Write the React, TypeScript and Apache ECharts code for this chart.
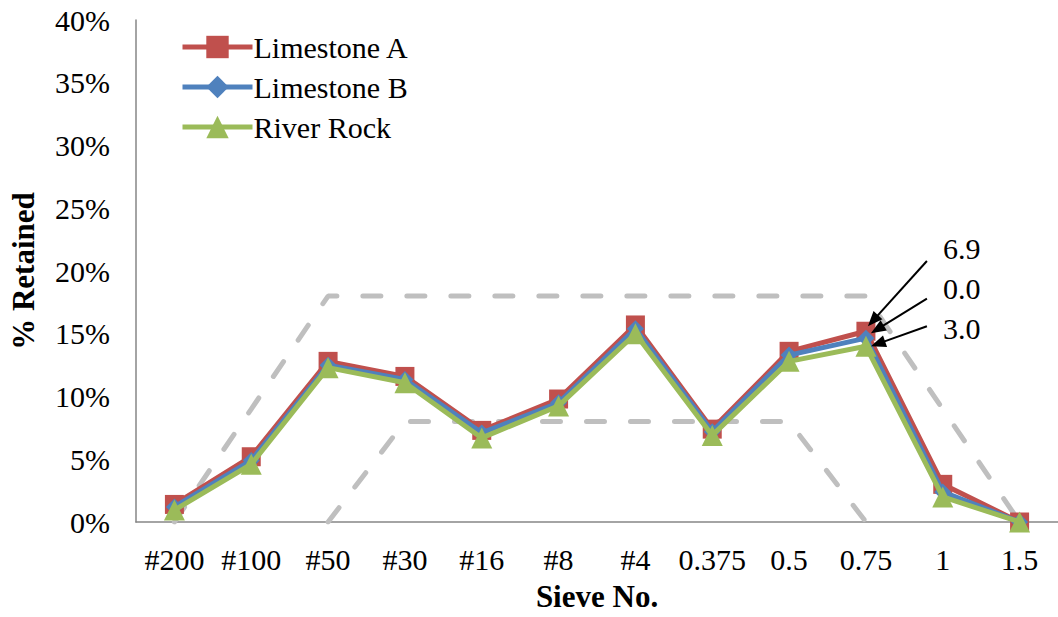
import React, { useEffect, useRef } from "react";
import * as echarts from "echarts";

// Sieve sizes along the x axis
const categories = ["#200", "#100", "#50", "#30", "#16", "#8", "#4", "0.375", "0.5", "0.75", "1", "1.5"];

// Percent retained on each sieve
const limestoneA = [1.4, 5.2, 12.8, 11.6, 7.3, 9.8, 15.7, 7.4, 13.6, 15.2, 3.0, 0];
const limestoneB = [1.2, 4.9, 12.5, 11.35, 7.1, 9.5, 15.4, 7.2, 13.3, 14.65, 2.4, 0];
const riverRock = [0.95, 4.6, 12.3, 11.1, 6.7, 9.25, 15.0, 6.9, 12.8, 14.0, 2.0, 0];

// Gradation band limits
const upperLimit = [0, 9, 18, 18, 18, 18, 18, 18, 18, 18, 9, 0];
const lowerLimit = [null, null, 0, 8, 8, 8, 8, 8, 8, 0, null, null];

// Y axis ticks (percent)
const yMax = 40;
const yStep = 5;

// Callouts at the 0.75 sieve: text, label height (%), arrow tail height (%)
const calloutCategory = "0.75";
const calloutTexts = ["6.9", "0.0", "3.0"];
const calloutLabelY = [21.8, 18.6, 15.4];
const calloutTailY = [20.8, 17.8, 15.6];

const FONT = "'Liberation Serif', 'Times New Roman', serif";

export default function App() {
  const ref = useRef<HTMLDivElement>(null);

  useEffect(() => {
    if (!ref.current) return;
    const chart = echarts.init(ref.current, null, { renderer: "svg" });

    const dataSeries = [
      { name: "Limestone A", data: limestoneA, color: "#C0504D", symbol: "rect", size: 19 },
      { name: "Limestone B", data: limestoneB, color: "#4F81BD", symbol: "diamond", size: 17 },
      { name: "River Rock", data: riverRock, color: "#9BBB59", symbol: "triangle", size: 21 },
    ];

    const limitStyle = {
      color: "#BFBFBF",
      width: 5,
      type: [18, 26] as any,
      cap: "round" as const,
    };

    chart.setOption({
      animation: false,
      backgroundColor: "#ffffff",
      grid: { left: 133, top: 20, width: 934, bottom: 92, containLabel: false },
      legend: {
        data: dataSeries.map((s) => s.name),
        orient: "vertical",
        left: 175,
        top: 27,
        itemWidth: 70,
        itemHeight: 28,
        itemGap: 10,
        lineStyle: { width: 5 },
        textStyle: { fontFamily: FONT, fontSize: 30, color: "#000", padding: [0, 0, 0, -4] },
      },
      xAxis: {
        type: "category",
        data: categories,
        boundaryGap: true,
        name: "Sieve No.",
        nameLocation: "middle",
        nameGap: 59,
        nameTextStyle: { fontFamily: FONT, fontSize: 31, fontWeight: "bold", color: "#000" },
        axisLine: { lineStyle: { color: "#868686", width: 1.5 } },
        axisTick: { show: false },
        axisLabel: { fontFamily: FONT, fontSize: 30, color: "#000", margin: 22, interval: 0 },
        splitLine: { show: false },
      },
      yAxis: {
        type: "value",
        min: 0,
        max: yMax,
        interval: yStep,
        name: "% Retained",
        nameLocation: "middle",
        nameGap: 97,
        nameTextStyle: { fontFamily: FONT, fontSize: 31, fontWeight: "bold", color: "#000" },
        axisLine: { show: true, lineStyle: { color: "#868686", width: 1.5 } },
        axisTick: { show: false },
        axisLabel: { fontFamily: FONT, fontSize: 30, color: "#000", margin: 26, formatter: "{value}%" },
        splitLine: { show: false },
      },
      series: [
        {
          name: "Upper limit",
          type: "line",
          data: upperLimit,
          symbol: "none",
          lineStyle: limitStyle,
          itemStyle: { color: "#BFBFBF" },
          z: 1,
          silent: true,
        },
        {
          name: "Lower limit",
          type: "line",
          data: lowerLimit,
          symbol: "none",
          connectNulls: false,
          lineStyle: limitStyle,
          itemStyle: { color: "#BFBFBF" },
          z: 1,
          silent: true,
        },
        ...dataSeries.map((s, i) => ({
          name: s.name,
          type: "line",
          data: s.data,
          symbol: s.symbol,
          symbolSize: s.size,
          showAllSymbol: true,
          lineStyle: { color: s.color, width: 5 },
          itemStyle: { color: s.color },
          z: 2 + i,
        })),
      ],
    });

    // Arrow callouts pointing at the 0.75 sieve points
    const tipOffsets = [
      [2, -5],
      [5, -5],
      [5, 0],
    ];
    const seriesValues = [limestoneA, limestoneB, riverRock];
    const catIdx = categories.indexOf(calloutCategory);
    const graphics: any[] = [];
    calloutTexts.forEach((txt, i) => {
      const pt = chart.convertToPixel({ seriesIndex: 2 + i }, [catIdx, seriesValues[i][catIdx]]) as number[];
      const tailY = (chart.convertToPixel({ seriesIndex: 2 + i }, [catIdx, calloutTailY[i]]) as number[])[1];
      const labelY = (chart.convertToPixel({ seriesIndex: 2 + i }, [catIdx, calloutLabelY[i]]) as number[])[1];
      const tip = [pt[0] + tipOffsets[i][0], pt[1] + tipOffsets[i][1]];
      const tail = [pt[0] + 61, tailY];
      const dx = tip[0] - tail[0];
      const dy = tip[1] - tail[1];
      const len = Math.hypot(dx, dy);
      const ux = dx / len;
      const uy = dy / len;
      const headL = 15;
      const headW = 6;
      const bx = tip[0] - ux * headL;
      const by = tip[1] - uy * headL;
      graphics.push({
        type: "line",
        shape: { x1: tail[0], y1: tail[1], x2: bx + ux * 2, y2: by + uy * 2 },
        style: { stroke: "#000", lineWidth: 2 },
        z: 100,
      });
      graphics.push({
        type: "polygon",
        shape: {
          points: [
            [tip[0], tip[1]],
            [bx - uy * headW, by + ux * headW],
            [bx + uy * headW, by - ux * headW],
          ],
        },
        style: { fill: "#000" },
        z: 100,
      });
      graphics.push({
        type: "text",
        x: pt[0] + 77,
        y: labelY,
        style: {
          text: txt,
          fontFamily: FONT,
          fontSize: 30,
          fill: "#000",
          textAlign: "left",
          textVerticalAlign: "middle",
        },
        z: 100,
      });
    });
    chart.setOption({ graphic: graphics });

    return () => chart.dispose();
  }, []);

  return (
    <div
      ref={ref}
      style={{ position: "fixed", left: 0, top: 0, width: 1058, height: 617, background: "#fff" }}
    />
  );
}
